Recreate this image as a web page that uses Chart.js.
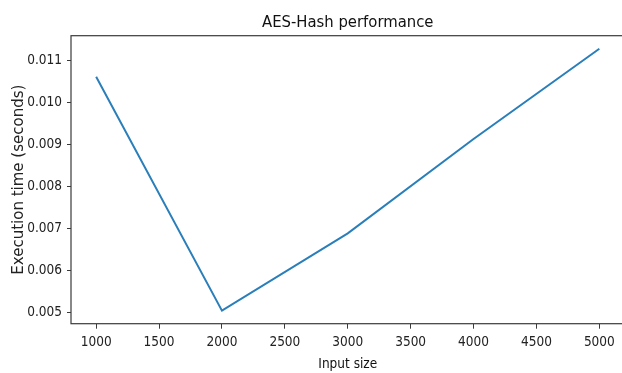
<!DOCTYPE html>
<html>
<head>
<meta charset="utf-8">
<script src="https://cdn.jsdelivr.net/npm/chart.js@4.4.0/dist/chart.umd.min.js"></script>
<style>
  html, body { margin: 0; padding: 0; background: #fff; overflow: hidden; }
  #wrap { width: 622px; height: 373px; overflow: hidden; }
</style>
</head>
<body>
<div id="wrap">
  <canvas id="perfChart" width="640" height="373"></canvas>
</div>
<script>
// Données
const inputSizes = [1000, 2000, 3000, 4000, 5000];
const execTimes = [0.01062, 0.00505, 0.00689, 0.00914, 0.01129];

// Graduations des axes
const xTicks = [1000, 1500, 2000, 2500, 3000, 3500, 4000, 4500, 5000];
const yTicks = [0.005, 0.006, 0.007, 0.008, 0.009, 0.010, 0.011];

const narrowFont = "'DejaVu Sans Condensed', 'DejaVu Sans', sans-serif";

// cadre autour de la zone de tracé (comme matplotlib)
const framePlugin = {
    id: 'frame',
    afterDatasetsDraw(chart) {
        const { ctx, chartArea } = chart;
        ctx.save();
        ctx.strokeStyle = '#3a3a3a';
        ctx.lineWidth = 1.2;
        ctx.strokeRect(chartArea.left, chartArea.top, chartArea.right - chartArea.left, chartArea.bottom - chartArea.top);
        ctx.restore();
    }
};

const ctx = document.getElementById('perfChart').getContext('2d');
new Chart(ctx, {
    type: 'line',
    data: {
        datasets: [{
            label: 'AES-Hash',
            data: inputSizes.map((x, i) => ({ x: x, y: execTimes[i] })),
            borderColor: '#2a7fbb',
            borderWidth: 2,
            pointRadius: 0,
            tension: 0,
            fill: false
        }]
    },
    options: {
        responsive: false,
        animation: false,
        layout: { padding: { left: 0, right: 15.5, top: 0, bottom: 0 } },
        plugins: {
            legend: { display: false },
            tooltip: { enabled: false },
            title: {
                display: true,
                fullSize: false,   // centré sur la zone de tracé
                text: 'AES-Hash performance',
                color: '#111',
                font: { family: narrowFont, size: 16.5, weight: 'normal', lineHeight: 1.2 },
                padding: { top: 12.5, bottom: 3.4 }
            }
        },
        scales: {
            x: {
                type: 'linear',
                min: 800,
                max: 5200,
                afterBuildTicks: axis => { axis.ticks = xTicks.map(v => ({ value: v })); },
                afterFit: axis => { axis.height = 49.3; },
                border: { display: false },
                grid: { drawOnChartArea: false, drawTicks: true, tickLength: 5, color: '#3a3a3a', tickWidth: 1 },
                ticks: {
                    color: '#222',
                    padding: 6,
                    maxRotation: 0,
                    autoSkip: false,
                    font: { family: narrowFont, size: 13.5 },
                    callback: v => String(v)
                },
                title: {
                    display: true,
                    text: 'Input size',
                    color: '#111',
                    padding: 0,
                    font: { family: narrowFont, size: 13.5 }
                }
            },
            y: {
                min: 0.004738,
                max: 0.0116,
                afterBuildTicks: axis => { axis.ticks = yTicks.map(v => ({ value: v })); },
                afterFit: axis => { axis.width = 71; },
                border: { display: false },
                grid: { drawOnChartArea: false, drawTicks: true, tickLength: 4, color: '#3a3a3a', tickWidth: 1 },
                ticks: {
                    color: '#222',
                    padding: 5,
                    autoSkip: false,
                    font: { family: narrowFont, size: 13.5 },
                    callback: v => v.toFixed(3)
                },
                title: {
                    display: true,
                    text: 'Execution time (seconds)',
                    color: '#222',
                    padding: { top: 10, bottom: 0 },
                    font: { family: "'DejaVu Sans', sans-serif", size: 15 }
                }
            }
        }
    },
    plugins: [framePlugin]
});
</script>
</body>
</html>
